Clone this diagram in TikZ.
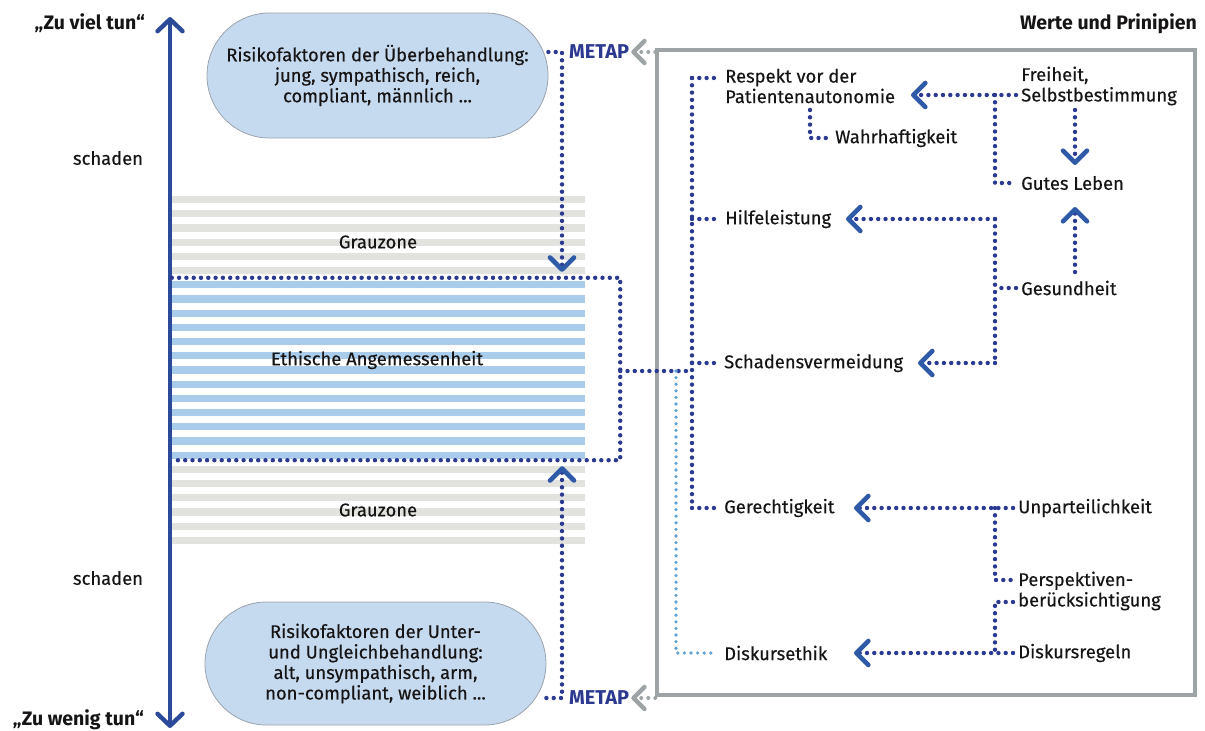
\documentclass[tikz,border=0pt]{standalone}
\usepackage{fontspec}
\setmainfont{Fira Sans}
\newfontfamily\medfont{Fira Sans}[FakeBold=0.35]
\usetikzlibrary{arrows.meta,shapes.misc}
\definecolor{navy}{HTML}{2B3990}
\definecolor{chev}{HTML}{2E5AA8}
\definecolor{axisblue}{HTML}{2C4A9A}
\definecolor{lightdot}{HTML}{5EA2D6}
\definecolor{framegrey}{HTML}{9EA3A6}
\definecolor{stripeblue}{HTML}{A9CCEA}
\definecolor{stripegrey}{HTML}{E2E3DF}
\definecolor{pillfill}{HTML}{C6DAEF}
\definecolor{pillline}{HTML}{9AA3AC}
\definecolor{ink}{HTML}{161414}
\newcommand{\txtfont}{\medfont\fontsize{18.4}{20.5}\selectfont}
\begin{document}
\begin{tikzpicture}[x=1pt,y=-1pt,
  lbl/.style={font=\txtfont, text=ink, inner sep=0pt, align=left, anchor=west},
  ctr/.style={font=\txtfont, text=ink, inner sep=0pt, align=center},
  ttl/.style={font=\fontsize{19.5}{22}\selectfont\bfseries, text=ink, inner sep=0pt},
  metap/.style={font=\fontsize{20}{22}\selectfont\bfseries, text=navy, inner sep=0pt, anchor=west},
  dotline/.style={draw=navy, line width=4.4pt, dash pattern=on 0pt off 7.3pt, line cap=round},
  lightline/.style={draw=lightdot, line width=3.6pt, dash pattern=on 0pt off 6.6pt, line cap=round},
  greyline/.style={draw=framegrey, line width=4pt, dash pattern=on 0pt off 7pt, line cap=round},
  chevtip/.style={-{Straight Barb[length=12pt,width=24pt,line width=4.6pt,round,color=chev]}},
  greytip/.style={-{Straight Barb[length=11pt,width=22pt,line width=4.4pt,round,color=framegrey]}},
  pill/.style={rounded rectangle, fill=pillfill, draw=pillline, line width=0.8pt,
    minimum width=341pt, inner sep=0pt, font=\txtfont, text=ink, align=center},
]
\useasboundingbox (0,0) rectangle (1205,731);

% stripes
\foreach \k in {0,...,24}{
  \pgfmathsetmacro{\yy}{199.5+14.2*\k}
  \ifnum\k<6 \def\sc{stripegrey}\else\ifnum\k>18 \def\sc{stripegrey}\else\def\sc{stripeblue}\fi\fi
  \fill[\sc] (172,\yy-3.6) rectangle (585,\yy+3.6);
}

% axis
\coordinate (axtop) at (170,17);
\coordinate (axbot) at (170,728);
\draw[axisblue, line width=3.8pt,
  {Straight Barb[length=12pt,width=25pt,line width=4.4pt,round]}-{Straight Barb[length=12pt,width=25pt,line width=4.4pt,round]}]
  (axbot) -- (axtop);

\node[ttl, anchor=east] (zuviel) at (145,23) {„Zu viel tun“};
\node[ttl, anchor=east] (zuwenig) at (144,720) {„Zu wenig tun“};
\node[ctr] (schaden1) at (108,158) {schaden};
\node[ctr] (schaden2) at (108,578) {schaden};

% pills
\node[pill, minimum height=125pt] (risk1) at (377.5,75.5)
  {Risikofaktoren der Überbehandlung:\\jung, sympathisch, reich,\\compliant, männlich ...};
\node[pill, minimum height=123pt] (risk2) at (375.5,663.5)
  {Risikofaktoren der Unter-\\und Ungleichbehandlung:\\alt, unsympathisch, arm,\\non-compliant, weiblich ...};

% zone labels
\node[ctr] (grau1) at (378,242) {Grauzone};
\node[ctr] (ethik) at (377,360) {Ethische Angemessenheit};
\node[ctr] (grau2) at (378,510) {Grauzone};

% ethic box
\node[minimum width=448pt, minimum height=182pt, inner sep=0pt] (ethbox) at (396,369) {};
\draw[dotline] (ethbox.north west) -- (ethbox.north east) -- (ethbox.south east) -- (ethbox.south west);

% frame
\node[draw=framegrey, line width=3.5pt, minimum width=538pt, minimum height=645pt, inner sep=0pt] (frame) at (926,372.5) {};
\node[ttl, anchor=east] (werte) at (1197,24) {Werte und Prinipien};

% METAP
\node[metap] (metap1) at (569,52) {METAP};
\node[metap] (metap2) at (569,698) {METAP};
\draw[greyline, greytip] (frame.north west |- metap1) -- ([xshift=2pt]metap1.east);
\draw[greyline, greytip] (frame.south west |- metap2) -- ([xshift=2pt]metap2.east);

\coordinate (topdrop) at (562,52);
\coordinate (botdrop) at (562,698);
\draw[dotline, chevtip, shorten >=6pt] (risk1.east |- topdrop) -- (topdrop) -- (ethbox.north -| topdrop);
\draw[dotline, chevtip, shorten >=6pt] (risk2.east |- botdrop) -- (botdrop) -- (ethbox.south -| botdrop);

% right panel labels
\node[lbl] (respekt) at (725,86) {Respekt vor der\\Patientenautonomie};
\node[lbl] (wahr) at (835,138) {Wahrhaftigkeit};
\node[lbl] (hilfe) at (725,219) {Hilfeleistung};
\node[lbl] (freiheit) at (1021,86) {Freiheit,\\Selbstbestimmung};
\node[lbl] (gutes) at (1021,183) {Gutes Leben};
\node[lbl] (gesund) at (1021,288) {Gesundheit};
\node[lbl] (schadv) at (724,363) {Schadensvermeidung};
\node[lbl] (gerecht) at (724,508) {Gerechtigkeit};
\node[lbl] (unpart) at (1018,508) {Unparteilichkeit};
\node[lbl] (persp) at (1018,591) {Perspektiven-\\berücksichtigung};
\node[lbl] (diskr) at (1018,653) {Diskursregeln};
\node[lbl] (diske) at (724,653) {Diskursethik};

% main trunk
\coordinate (tTop) at (692,78);
\coordinate (tBot) at (692,508);
\coordinate (jE) at (692,371);
\coordinate (jL) at (676,371);
\draw[dotline] (tTop) -- (tBot);
\draw[dotline] (tTop) -- ([xshift=-6pt]respekt.west |- tTop);
\draw[dotline] (tTop |- hilfe) -- ([xshift=-6pt]hilfe.west);
\draw[dotline] (tTop |- schadv) -- ([xshift=-6pt]schadv.west);
\draw[dotline] (tBot) -- ([xshift=-6pt]gerecht.west);
\draw[dotline] (ethbox.east |- jE) -- (jE);
\draw[lightline] (jL) |- ([xshift=-10pt]diske.west);

% Wahrhaftigkeit
\coordinate (wTop) at (810,110);
\draw[dotline] (wTop) |- ([xshift=-5pt]wahr.west);

% Freiheit
\coordinate (fJ) at (995,95);
\coordinate (aResp) at (911,95);
\draw[dotline, chevtip] ([xshift=-5pt]freiheit.west |- fJ) -- (aResp);
\draw[dotline] (fJ) |- ([xshift=-5pt]gutes.west);
\coordinate (gTop) at (1075,165);
\coordinate (gBot) at (1075,207);
\draw[dotline, chevtip] (1075,110) -- (gTop);
\draw[dotline, chevtip] (1075,272) -- (gBot);

% Gesundheit
\coordinate (hTop) at (995,219);
\coordinate (hBot) at (995,363);
\coordinate (aHilfe) at (846,219);
\coordinate (aSchad) at (918,363);
\draw[dotline] (hTop) -- (hBot);
\draw[dotline] ([xshift=-5pt]gesund.west) -- (hTop |- gesund);
\draw[dotline, chevtip] (hTop) -- (aHilfe);
\draw[dotline, chevtip] (hBot) -- (aSchad);

% Gerechtigkeit
\coordinate (uJ) at (995,508);
\coordinate (aGer) at (854,508);
\coordinate (aDisk) at (854,653);
\coordinate (pA) at (995,580);
\coordinate (pB) at (995,602);
\coordinate (dJ) at (995,653);
\draw[dotline, chevtip] ([xshift=-5pt]unpart.west) -- (aGer);
\draw[dotline] (uJ) -- (pA) -- ([xshift=-5pt]persp.west |- pA);
\draw[dotline] ([xshift=-5pt]persp.west |- pB) -- (pB) -- (dJ);
\draw[dotline, chevtip] ([xshift=-5pt]diskr.west) -- (aDisk);
\end{tikzpicture}
\end{document}
